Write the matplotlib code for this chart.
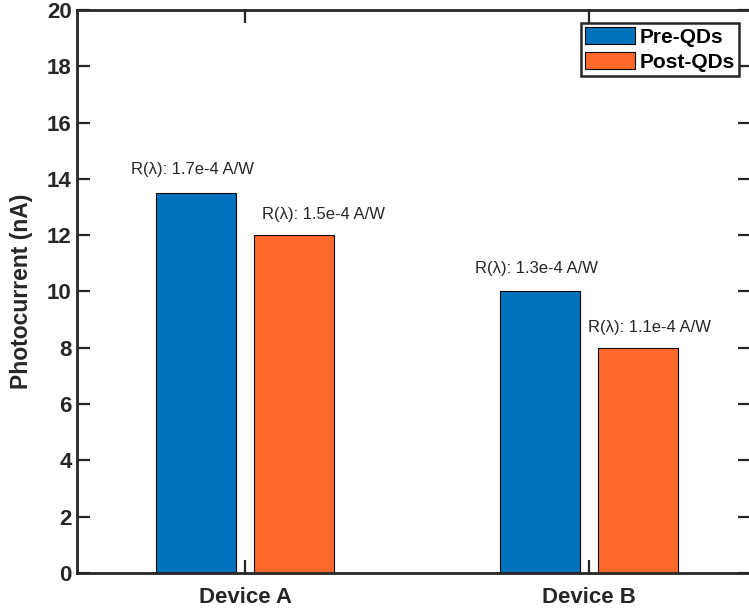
import numpy as np
import matplotlib.pyplot as plt

plt.rcParams['font.family'] = ['Liberation Sans', 'DejaVu Sans']

# data
devices = ['Device A', 'Device B']
pre_qds = [13.5, 10.0]
post_qds = [12.0, 8.0]
resp_pre = ['1.7e-4', '1.3e-4']
resp_post = ['1.5e-4', '1.1e-4']

c_pre = '#0072BD'
c_post = '#FF6A2A'
dark = '#262626'

fig = plt.figure(figsize=(7.49, 6.08), dpi=100)
ax = fig.add_axes([0.1024, 0.0576, 0.9003, 0.926])

x = np.arange(1, len(devices) + 1)
w = 0.232
ax.bar(x - 0.143, pre_qds, w, color=c_pre, edgecolor='black', linewidth=0.8, label='Pre-QDs')
ax.bar(x + 0.142, post_qds, w, color=c_post, edgecolor='black', linewidth=0.8, label='Post-QDs')

# responsivity labels (placed by hand like the original)
post_dx = [0.048, -0.003]
for i in range(len(devices)):
    ax.text(x[i] - 0.332, pre_qds[i] + 0.83, 'R(λ): ' + resp_pre[i] + ' A/W',
            fontsize=12, color=dark, va='center', ha='left')
    ax.text(x[i] + post_dx[i], post_qds[i] + 0.73, 'R(λ): ' + resp_post[i] + ' A/W',
            fontsize=12, color=dark, va='center', ha='left')

ax.set_xlim(0.51, 2.47)
ax.set_ylim(0, 20)
ax.set_xticks(x)
ax.set_xticklabels(devices, fontsize=16, fontweight='bold', color=dark)
ax.set_yticks(np.arange(0, 21, 2))
ax.tick_params(axis='y', labelsize=16, labelcolor=dark)
for lab in ax.get_yticklabels():
    lab.set_fontweight('bold')
ax.tick_params(direction='in', length=9.5, width=1.6, top=True, right=True, colors=dark)
ax.tick_params(axis='x', pad=10)
ax.set_ylabel('Photocurrent (nA)', fontsize=16.5, fontweight='bold', color=dark, labelpad=10)

for s in ax.spines.values():
    s.set_linewidth(2)
    s.set_color(dark)

leg = ax.legend(loc='upper right', bbox_to_anchor=(0.9815, 0.977), borderaxespad=0,
                prop={'weight': 'bold', 'size': 15}, handlelength=2.4, handleheight=0.9,
                labelspacing=0.25, handletextpad=0.2, borderpad=0.2,
                fancybox=False, framealpha=1)
leg.get_frame().set_edgecolor(dark)
leg.get_frame().set_linewidth(1.8)

fig.savefig('out.png', dpi=100)
